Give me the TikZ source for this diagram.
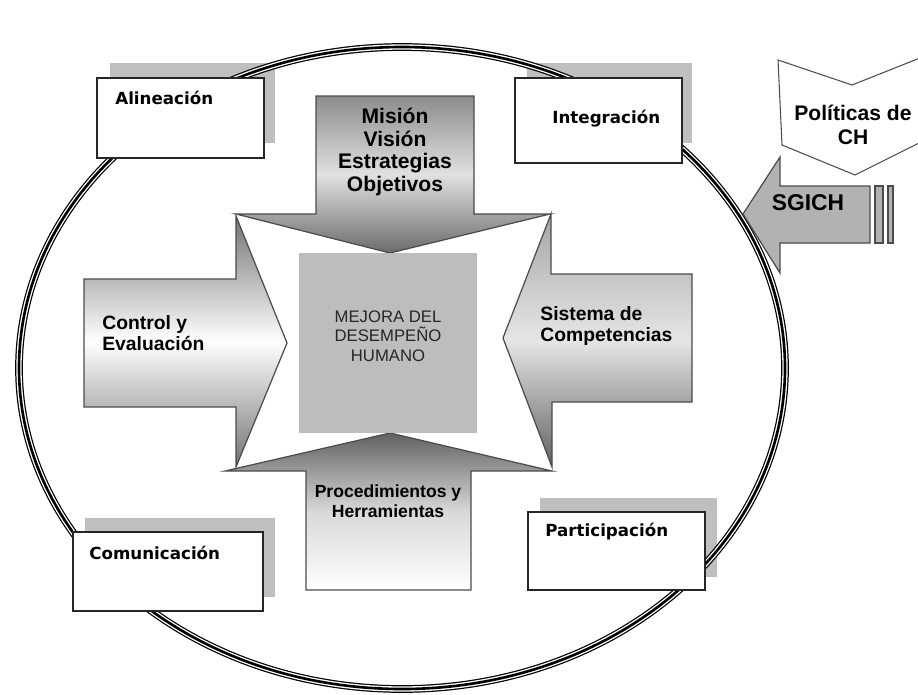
\documentclass[tikz,border=0pt]{standalone}
\usepackage{fontspec}
\setmainfont{Liberation Sans}
\newfontfamily\cajafont{DejaVu Sans}
\begin{document}
\begin{tikzpicture}[x=0.02cm,y=-0.02cm,
        sombra/.style={fill=black!25},
        caja/.style={draw=black!85,line width=0.9pt,fill=white,rectangle,inner sep=0pt,anchor=north west},
        cajatexto/.style={font=\cajafont\bfseries\fontsize{9.5}{11}\selectfont,inner sep=0pt,anchor=west},
        flecha/.style={draw=black!70,line width=0.7pt},
        texto/.style={font=\bfseries\fontsize{11}{12}\selectfont,inner sep=0pt,align=left}]
        \useasboundingbox (0,0) rectangle (918,694);
        %% Shadows
        \fill[sombra] (110,63) rectangle (275,143);
        \fill[sombra] (527,63) rectangle (692,143);
        \fill[sombra] (85,518) rectangle (275,597);
        \fill[sombra] (540,498) rectangle (717,577);
        %% Ring
        \foreach \w/\c in {4.4pt/black,3pt/white,1.5pt/black}
            \draw[line width=\w,\c] (402,368) ellipse [x radius=383,y radius=321];
        %% Boxes
        \node[caja,minimum width=3.34cm,minimum height=1.6cm] (alineacion) at (96,77) {};
        \node[caja,minimum width=3.34cm,minimum height=1.7cm] (integracion) at (514,77) {};
        \node[caja,minimum width=3.8cm,minimum height=1.58cm] (comunicacion) at (72,531) {};
        \node[caja,minimum width=3.54cm,minimum height=1.56cm] (participacion) at (527,511) {};
        \node[cajatexto] (alineaciontxt) at (115,98) {Alineación};
        \node[cajatexto] (integraciontxt) at (552,119) {Integración};
        \node[cajatexto] (comunicaciontxt) at (89,553) {Comunicación};
        \node[cajatexto] (participaciontxt) at (545,532) {Participación};
        %% Arrows
        \draw[flecha,top color=black!45,bottom color=black!58,middle color=black!12]
            (316,96) -- (474,96) -- (474,214) -- (550,214) -- (390,253) -- (236,214) -- (316,214) -- cycle;
        \draw[flecha,top color=black!62,bottom color=white,middle color=black!15]
            (306,590) -- (306,471) -- (225,471) -- (390,433) -- (552,471) -- (471,471) -- (471,590) -- cycle;
        \draw[flecha,top color=black!55,bottom color=black!55,middle color=white]
            (84,279) -- (236,279) -- (236,216) -- (287,343) -- (236,467) -- (236,407) -- (84,407) -- cycle;
        \draw[flecha,top color=black!35,bottom color=black!62,middle color=black!10]
            (692,274) -- (551,274) -- (551,214) -- (503,338) -- (552,467) -- (552,402) -- (692,402) -- cycle;
        %% Center
        \node[fill=black!26,minimum width=3.56cm,minimum height=3.6cm,inner sep=0pt,anchor=north west] (centro) at (299,253) {};
        \node[font=\fontsize{9.5}{11}\selectfont,text=black!85,align=center,inner sep=0pt] (mejora) at (388,336) {MEJORA DEL\\DESEMPEÑO\\HUMANO};
        \node[texto,align=center,font=\bfseries\fontsize{12}{13}\selectfont] (mision) at (395,152) {Misión\\Visión\\Estrategias\\Objetivos};
        \node[texto,anchor=west] (control) at (102,333) {Control y\\Evaluación};
        \node[texto,anchor=west] (sistema) at (540,326) {Sistema de\\Competencias};
        \node[texto,align=center,font=\bfseries\fontsize{10}{11.3}\selectfont] (procedimientos) at (388,501) {Procedimientos y\\Herramientas};
        %% Policies and SGICH
        \draw[line width=0.6pt,draw=black!70,fill=white] (778,60) -- (852,85) -- (935,52) -- (935,135) -- (855,175) -- (782,145) -- cycle;
        \node[texto,align=center,font=\bfseries\fontsize{12}{13.6}\selectfont] (politicas) at (853,125) {Políticas de\\CH};
        \draw[flecha,fill=black!30] (870,186) -- (780,186) -- (780,157) -- (743,214) -- (780,273) -- (780,243) -- (870,243) -- cycle;
        \draw[flecha,fill=black!30] (875,186) rectangle (883,243);
        \draw[flecha,fill=black!30] (888,186) rectangle (893,243);
        \node[texto,font=\bfseries\fontsize{13}{14}\selectfont] (sgich) at (808,203) {SGICH};
    \end{tikzpicture}
\end{document}
